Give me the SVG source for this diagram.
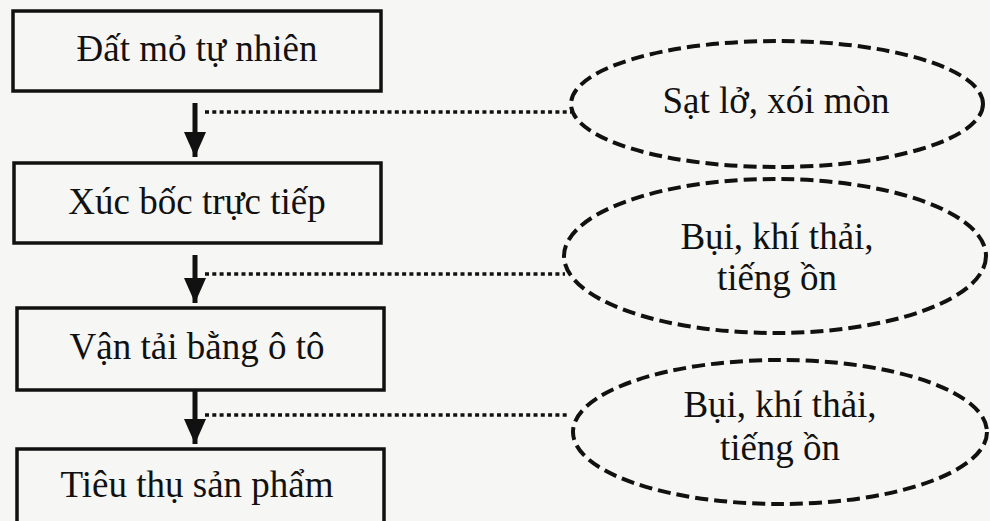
<svg xmlns="http://www.w3.org/2000/svg" width="990" height="521" viewBox="0 0 990 521">
  <style>
    .box { fill: none; stroke: #111; stroke-width: 3.5; }
    .oval { fill: none; stroke: #111; stroke-width: 4; stroke-dasharray: 13 6; }
    .lbl { font-family: "Liberation Serif", "Times New Roman", serif; font-size: 37px; fill: #111; text-anchor: middle; }
    .flow { stroke: #111; stroke-width: 5; fill: none; }
    .dots { stroke: #111; stroke-width: 3.5; stroke-dasharray: 4 3.3; fill: none; }
  </style>
  <defs>
    <!-- solid triangular head, drawn along +x so orient="auto" turns it with the line -->
    <marker id="head" markerUnits="userSpaceOnUse" markerWidth="26" markerHeight="22" refX="25" refY="11" orient="auto" viewBox="0 0 26 22">
      <path d="M0,0 L25,11 L0,22 Z" fill="#111"/>
    </marker>
  </defs>
  <rect width="990" height="521" fill="#f6f6f4"/>

  <g id="step1">
    <rect class="box" x="13" y="11" width="368" height="80"/>
    <text class="lbl" x="197" y="61">Đất mỏ tự nhiên</text>
  </g>
  <g id="step2">
    <rect class="box" x="14" y="163" width="367" height="80"/>
    <text class="lbl" x="197" y="214">Xúc bốc trực tiếp</text>
  </g>
  <g id="step3">
    <rect class="box" x="17" y="308" width="367" height="82"/>
    <text class="lbl" x="197" y="359">Vận tải bằng ô tô</text>
  </g>
  <g id="step4">
    <rect class="box" x="17" y="449" width="367" height="90"/>
    <text class="lbl" x="197" y="497">Tiêu thụ sản phẩm</text>
  </g>

  <g id="impact1">
    <ellipse class="oval" cx="777" cy="104" rx="206" ry="63"/>
    <text class="lbl" x="776" y="113">Sạt lở, xói mòn</text>
  </g>
  <g id="impact2">
    <ellipse class="oval" cx="775" cy="256" rx="211" ry="77"/>
    <text class="lbl" x="777" y="249">Bụi, khí thải,</text>
    <text class="lbl" x="777" y="290">tiếng ồn</text>
  </g>
  <g id="impact3">
    <ellipse class="oval" cx="780" cy="432" rx="207" ry="72"/>
    <text class="lbl" x="780" y="417">Bụi, khí thải,</text>
    <text class="lbl" x="780" y="460">tiếng ồn</text>
  </g>

  <g id="connectors">
    <line class="flow" x1="195" y1="103" x2="195" y2="157" marker-end="url(#head)"/>
    <line class="flow" x1="195" y1="255" x2="195" y2="303" marker-end="url(#head)"/>
    <line class="flow" x1="195" y1="391" x2="195" y2="444" marker-end="url(#head)"/>
    <line class="dots" x1="205" y1="112" x2="571" y2="112"/>
    <line class="dots" x1="205" y1="274" x2="565" y2="274"/>
    <line class="dots" x1="205" y1="415" x2="567" y2="415"/>
  </g>
</svg>
